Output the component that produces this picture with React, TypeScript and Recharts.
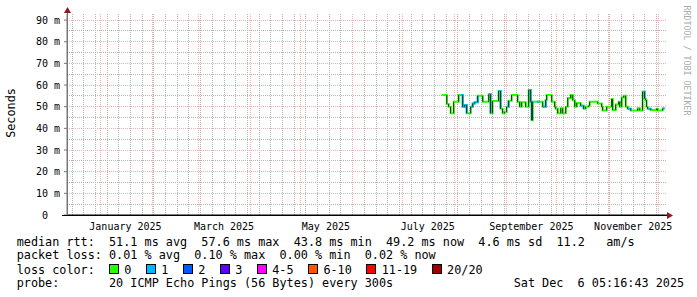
import React from 'react';
import { ComposedChart, Line, Bar, XAxis, YAxis, ReferenceLine } from 'recharts';

// days since 2025-01-01 for each median rtt step
const dayOffsets = [
    204.4, 207.4, 208.5, 209.7, 211.5, 214.5, 215.7, 216.9, 218.1, 219.3,
    221.7, 222.9, 224.1, 225.9, 228.9, 232.5, 233.6, 234.8, 238.4, 239.6,
    240.8, 242.0, 243.2, 244.4, 246.2, 249.8, 251.0, 252.2, 254.6, 256.4,
    257.6, 258.2, 258.8, 261.2, 263.0, 264.8, 266.6, 267.2, 270.2, 272.0,
    272.6, 273.8, 275.6, 276.8, 278.6, 279.8, 281.6, 282.8, 284.0, 285.2,
    287.5, 289.3, 290.5, 292.3, 292.9, 297.7, 300.1, 300.7, 303.1, 306.1,
    306.7, 308.5, 310.3, 310.9, 312.1, 313.3, 314.5, 315.7, 317.5, 321.7,
    322.9, 324.6, 325.8, 326.4, 327.0, 327.6, 329.4, 333.0, 333.6, 336.6,
    337.8,
];
// median rtt in ms
const medianMs = [
    55.4, 51.2, 50.0, 47.0, 52.3, 55.4, 55.4, 50.0, 50.8, 47.0,
    50.0, 51.5, 52.0, 55.0, 52.3, 55.7, 47.0, 52.6, 57.2, 49.0,
    47.0, 47.6, 50.0, 52.8, 55.4, 52.2, 50.0, 52.0, 50.0, 57.7,
    52.3, 43.8, 52.3, 52.3, 52.3, 50.0, 53.1, 55.4, 52.3, 50.0,
    49.0, 47.0, 49.3, 47.0, 50.0, 54.0, 55.4, 53.0, 50.0, 51.7,
    50.4, 49.0, 50.0, 50.4, 52.3, 51.5, 50.0, 48.2, 50.0, 53.5,
    48.5, 51.0, 52.3, 50.0, 54.2, 55.0, 50.0, 49.0, 48.2, 49.3,
    48.2, 56.9, 53.8, 53.0, 50.0, 49.0, 48.5, 49.0, 48.2, 49.2,
    49.2,
];
// lost pings (of 20) per step
const lossPings = [
    0, 0, 0, 0, 0, 0, 1, 1, 1, 0,
    1, 1, 1, 0, 0, 1, 0, 0, 1, 0,
    0, 0, 1, 0, 0, 0, 0, 0, 0, 1,
    1, 0, 0, 1, 0, 1, 0, 0, 0, 0,
    0, 0, 0, 0, 0, 0, 0, 0, 0, 0,
    1, 0, 0, 0, 0, 0, 0, 0, 0, 0,
    0, 0, 0, 0, 0, 0, 0, 1, 0, 0,
    0, 1, 0, 0, 0, 1, 0, 0, 0, 1,
    1,
];

const monthLabels = ['January 2025', 'March 2025', 'May 2025', 'July 2025', 'September 2025', 'November 2025'];
const monthLabelDays = [15, 74, 135, 196, 258, 319];
const monthStarts = [0, 31, 59, 90, 120, 151, 181, 212, 243, 273, 304, 334];
const weekStarts = [
    -17, -10, -3, 4, 11, 18, 25, 32, 39, 46, 53, 60, 67, 74, 81, 88, 95, 102, 109, 116,
    123, 130, 137, 144, 151, 158, 165, 172, 179, 186, 193, 200, 207, 214, 221, 228, 235,
    242, 249, 256, 263, 270, 277, 284, 291, 298, 305, 312, 319, 326, 333,
];
const yTicks = [0, 10, 20, 30, 40, 50, 60, 70, 80, 90];
const yMinor = [5, 15, 25, 35, 45, 55, 65, 75, 85];

const rttStats = ['51.1 ms avg', '57.6 ms max', '43.8 ms min', '49.2 ms now', '4.6 ms sd', '11.2   am/s'];
const lossStats = ['0.01 % avg', '0.10 % max', '0.00 % min', '0.02 % now'];
const lossLabels = ['0', '1', '2', '3', '4-5', '6-10', '11-19', '20/20'];
const lossColors = ['#26ff00', '#00b8ff', '#0059ff', '#5e00ff', '#ff00ff', '#ff5500', '#ff0000', '#a10000'];
const probeText = '20 ICMP Echo Pings (56 Bytes) every 300s';
const stampText = 'Sat Dec  6 05:16:43 2025';

const MONO = "'DejaVu Sans Mono', monospace";
const MINOR = '#b4b4b4';
const MAJOR = '#f0b0b0';

// runs of steps with loss -> separate cyan series
const lossRuns: number[][] = [];
lossPings.forEach((l, i) => {
    if (l > 0 && i < dayOffsets.length - 1) {
        const last = lossRuns[lossRuns.length - 1];
        if (last && last[last.length - 1] === i - 1) last.push(i);
        else lossRuns.push([i]);
    }
});

const table = dayOffsets.map((d, i) => {
    const row: Record<string, any> = {
        day: d,
        rtt: medianMs[i],
        smoke: i > 0 ? [Math.min(medianMs[i - 1], medianMs[i]), Math.max(medianMs[i - 1], medianMs[i])] : null,
    };
    lossRuns.forEach((run, r) => {
        const inRun = run.includes(i) || run[run.length - 1] === i - 1;
        row['loss' + r] = inRun ? medianMs[i] : null;
    });
    return row;
});

let boxX = 108.7;
const lossItems = lossLabels.map((label, i) => {
    const item = { label, color: lossColors[i], x: boxX };
    boxX += 29.9 + 7.1 * label.length;
    return item;
});

const App: React.FC = () => {
    return (
        <div style={{ position: 'absolute', left: 0, top: 0, width: 697, height: 297, background: '#fff' }}>
            <ComposedChart
                width={697}
                height={297}
                data={table}
                margin={{ top: 14, right: 30, bottom: 62, left: 12 }}
            >
                {/* minor grid */}
                {weekStarts.map((d) => (
                    <ReferenceLine key={'w' + d} x={d} stroke={MINOR} strokeDasharray="1 1" shapeRendering="crispEdges" />
                ))}
                {yMinor.map((v) => (
                    <ReferenceLine key={'ym' + v} y={v} stroke={MINOR} strokeDasharray="1 1" shapeRendering="crispEdges" />
                ))}
                {/* major grid */}
                {monthStarts.map((d) => (
                    <ReferenceLine key={'m' + d} x={d} stroke={MAJOR} strokeDasharray="1 1" shapeRendering="crispEdges" />
                ))}
                {yTicks.filter((v) => v > 0).map((v) => (
                    <ReferenceLine key={'y' + v} y={v} stroke={MAJOR} strokeDasharray="1 1" shapeRendering="crispEdges" />
                ))}

                <XAxis
                    dataKey="day"
                    type="number"
                    domain={[-20, 339.2]}
                    ticks={monthLabelDays}
                    tickFormatter={(v: number) => monthLabels[monthLabelDays.indexOf(v)]}
                    allowDataOverflow
                    height={20}
                    axisLine={{ stroke: '#000' }}
                    tickLine={false}
                    tick={{ fill: '#000', fontSize: 10, fontFamily: MONO }}
                />
                <YAxis
                    type="number"
                    domain={[0, 92.8]}
                    ticks={yTicks}
                    width={55}
                    tickFormatter={(v: number) => (v === 0 ? '0\u00a0\u00a0' : `${v} m`)}
                    axisLine={{ stroke: '#777' }}
                    tickLine={{ stroke: '#777' }}
                    tickSize={3}
                    tickMargin={4}
                    tick={{ fill: '#000', fontSize: 10, fontFamily: MONO }}
                    allowDataOverflow
                />

                {/* median rtt, colour by loss */}
                <Line
                    type="stepAfter"
                    dataKey="rtt"
                    stroke="#26ff00"
                    strokeWidth={2}
                    dot={false}
                    activeDot={false}
                    isAnimationActive={false}
                />
                {lossRuns.map((_, r) => (
                    <Line
                        key={'loss' + r}
                        type="stepAfter"
                        dataKey={'loss' + r}
                        stroke="#00b8ff"
                        strokeWidth={2}
                        dot={false}
                        activeDot={false}
                        connectNulls={false}
                        isAnimationActive={false}
                    />
                ))}
                {/* smoke between steps */}
                <Bar dataKey="smoke" fill="#1e1e1e" barSize={2} isAnimationActive={false} zIndex={450} />
            </ComposedChart>

            <svg
                width={697}
                height={297}
                style={{ position: 'absolute', left: 0, top: 0, pointerEvents: 'none' }}
                fontFamily={MONO}
            >
                {/* axis extensions and arrows */}
                <line x1={62} y1={215.5} x2={668} y2={215.5} stroke="#000" />
                <polygon points="667,212 673,215.5 667,219" fill="#8b1a1a" />
                <line x1={67.5} y1={215} x2={67.5} y2={12} stroke="#777" />
                <polygon points="64,13 67.5,7 71,13" fill="#8b1a1a" />

                <text
                    x={11}
                    y={113}
                    fontSize={11.8}
                    textAnchor="middle"
                    dominantBaseline="central"
                    transform="rotate(-90 11 113)"
                    fill="#000"
                >
                    Seconds
                </text>
                <text
                    x={687}
                    y={60.5}
                    fontSize={8.3}
                    textAnchor="middle"
                    dominantBaseline="central"
                    transform="rotate(90 687 60.5)"
                    fill="#aaa"
                >
                    RRDTOOL / TOBI OETIKER
                </text>

                <g fontSize={11.8} fill="#000" style={{ whiteSpace: 'pre' }}>
                    <text x={16.7} y={245.5} xmlSpace="preserve">
                        {'median rtt:  ' + rttStats.join('  ')}
                    </text>
                    <text x={16.7} y={259} xmlSpace="preserve">
                        {'packet loss: ' + lossStats.join('  ')}
                    </text>
                    <text x={16.7} y={273.5}>loss color:</text>
                    {lossItems.map((it) => (
                        <g key={it.label}>
                            <rect x={Math.round(it.x) + 0.5} y={264.5} width={9} height={9} fill={it.color} stroke="#000" />
                            <text x={it.x + 15.5} y={273.5}>{it.label}</text>
                        </g>
                    ))}
                    <text x={16.7} y={287} xmlSpace="preserve">
                        {'probe:       ' + probeText}
                    </text>
                    <text x={513.7} y={287} xmlSpace="preserve">
                        {stampText}
                    </text>
                </g>
            </svg>
        </div>
    );
};

export default App;
